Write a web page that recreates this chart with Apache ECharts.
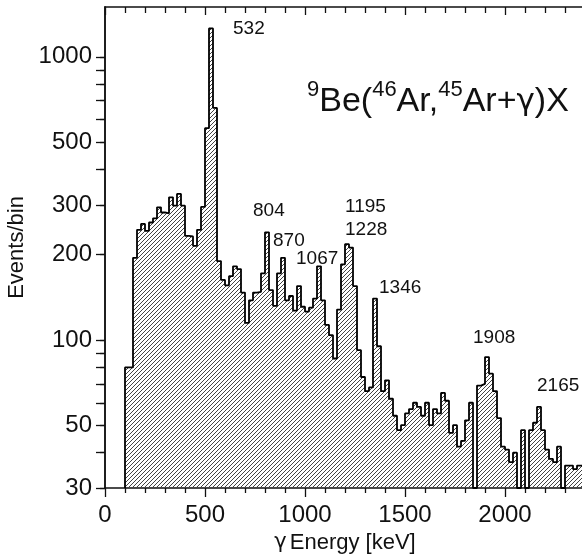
<!DOCTYPE html>
<html>
<head>
<meta charset="utf-8">
<script src="https://cdn.jsdelivr.net/npm/echarts@6/dist/echarts.min.js"></script>
<style>
  html, body { margin: 0; padding: 0; background: #fff; }
  #main { width: 582px; height: 559px; }
</style>
</head>
<body>
<div id="main"></div>
<script>
// gamma spectrum, 20 keV bins starting at 100 keV
var binStart = 100;
var binWidth = 20;
var counts = [
  80, 80, 195, 245, 257, 243, 260, 269, 294, 282,
  280, 319, 298, 328, 298, 233, 232, 215, 245, 295,
  560, 1260, 660, 190, 163, 156, 168, 182, 178, 147,
  115, 138, 147, 148, 172, 240, 150, 132, 172, 195,
  138, 143, 127, 155, 131, 126, 130, 140, 182, 138,
  113, 104, 86, 128, 185, 218, 212, 155, 92, 74,
  66, 68, 140, 95, 66, 72, 62, 54, 48, 50,
  55, 57, 60, 58, 54, 60, 50, 57, 55, 65,
  61, 47, 50, 42, 44, 52, 60, 30, 69, 70,
  87, 76, 66, 53, 42, 41, 37, 40, 30, 48,
  30, 48, 51, 58, 48, 41, 38, 37, 42, 30,
  36, 36, 35, 36, 36
];

var xMajor = [0, 500, 1000, 1500, 2000];
var xMinor = [100, 200, 300, 400, 600, 700, 800, 900, 1100, 1200, 1300, 1400,
              1600, 1700, 1800, 1900, 2100, 2200, 2300];
var yLabels = [30, 50, 100, 200, 300, 500, 1000];
var yTicks = [30, 40, 50, 60, 70, 80, 90, 100, 200, 300, 400, 500, 600, 700, 800, 900, 1000];

var peakNames = ['532', '804', '870', '1067', '1195', '1228', '1346', '1908', '2165'];

var FONT = '"Liberation Sans", Arial, Helvetica, sans-serif';
var GREEK = '"DejaVu Sans", sans-serif';
var INK = '#111';

// step outline points: left edge of each bin, closed on both sides
var points = [[binStart, 30]];
counts.forEach(function (c, i) {
  points.push([binStart + i * binWidth, c]);
});
points.push([binStart + counts.length * binWidth, counts[counts.length - 1]]);

function hatch() {
  var c = document.createElement('canvas');
  c.width = 4;
  c.height = 4;
  var g = c.getContext('2d');
  g.strokeStyle = '#444';
  g.lineWidth = 1;
  g.beginPath();
  g.moveTo(-1, 5); g.lineTo(5, -1);
  g.moveTo(-1, 1); g.lineTo(1, -1);
  g.moveTo(3, 5); g.lineTo(5, 3);
  g.stroke();
  return c;
}

function plain(v) { return String(Math.round(v)); }

function xAx(pos, ticks, len, inside, withLine, withLabels) {
  return {
    type: 'value', position: pos, min: 0, max: 2400,
    axisLine: { show: withLine, onZero: false, lineStyle: { color: INK, width: 1.5 } },
    axisTick: { show: true, inside: inside, length: len, customValues: ticks,
                lineStyle: { color: INK, width: 1.3 } },
    axisLabel: { show: withLabels, customValues: xMajor, margin: 15, formatter: plain,
                 fontFamily: FONT, fontSize: 24, color: INK },
    splitLine: { show: false }
  };
}

function yAx(pos, inside, len, withLabels) {
  return {
    type: 'log', position: pos, min: 30, max: 1500, logBase: 10,
    axisLine: { show: true, lineStyle: { color: INK, width: 1.5 } },
    axisTick: { show: true, inside: inside, length: len, customValues: yTicks,
                lineStyle: { color: INK, width: 1.3 } },
    axisLabel: { show: withLabels, customValues: yLabels, margin: 13, formatter: plain,
                 fontFamily: FONT, fontSize: 24, color: INK },
    splitLine: { show: false },
    minorTick: { show: false }
  };
}

var chart = echarts.init(document.getElementById('main'));

var bottomMajor = xAx('bottom', xMajor, 9, false, true, true);
bottomMajor.name = '{g|γ}Energy [keV]';
bottomMajor.nameLocation = 'middle';
bottomMajor.nameGap = 44;
bottomMajor.nameTextStyle = {
  fontFamily: FONT, fontSize: 22, color: INK,
  rich: { g: { fontFamily: GREEK, fontSize: 21, color: INK, padding: [0, 3, 0, 0] } }
};

var leftAxis = yAx('left', false, 5, true);
leftAxis.name = 'Events/bin';
leftAxis.nameLocation = 'middle';
leftAxis.nameGap = 69;
leftAxis.nameTextStyle = { fontFamily: FONT, fontSize: 22, color: INK };

chart.setOption({
  animation: false,
  backgroundColor: '#fff',
  title: {
    text: '{s|9}Be({s|46}Ar,{s|45}Ar+{g|γ})X',
    left: 302, top: 74,
    textStyle: {
      fontFamily: FONT, fontSize: 34, fontWeight: 'normal', color: INK, lineHeight: 46,
      rich: {
        s: { fontFamily: FONT, fontSize: 22, color: INK, lineHeight: 22, verticalAlign: 'top' },
        g: { fontFamily: GREEK, fontSize: 31, color: INK, lineHeight: 46 }
      }
    }
  },
  grid: { left: 105, right: -3, top: 7, bottom: 71, outerBoundsMode: 'none', containLabel: false },
  xAxis: [
    bottomMajor,
    xAx('bottom', xMinor, 5, false, false, false),
    xAx('top', xMajor, 8, true, true, false),
    xAx('top', xMinor, 6, true, false, false)
  ],
  yAxis: [
    leftAxis,
    yAx('right', true, 9, false)
  ],
  series: [{
    type: 'line',
    step: 'end',
    xAxisIndex: 0,
    yAxisIndex: 0,
    symbol: 'none',
    clip: true,
    data: points,
    lineStyle: { color: '#000', width: 1.8 },
    areaStyle: { color: { image: hatch(), repeat: 'repeat' }, opacity: 1, origin: 'start' }
  }]
});

// peak labels, anchored in data coordinates (keV, counts) at their left/middle point
var labelAnchors = [
  [640, 1256], [740, 286], [840, 224], [955, 193], [1200, 295],
  [1200, 245], [1370, 153], [1840, 102], [2160, 69]
];
chart.setOption({
  graphic: peakNames.map(function (name, i) {
    var p = chart.convertToPixel({ xAxisIndex: 0, yAxisIndex: 0 }, labelAnchors[i]);
    return {
      type: 'text', x: p[0], y: p[1], z: 100,
      style: { text: name, font: '19px ' + FONT, fill: INK,
               textAlign: 'left', textVerticalAlign: 'middle' }
    };
  })
});
</script>
</body>
</html>
